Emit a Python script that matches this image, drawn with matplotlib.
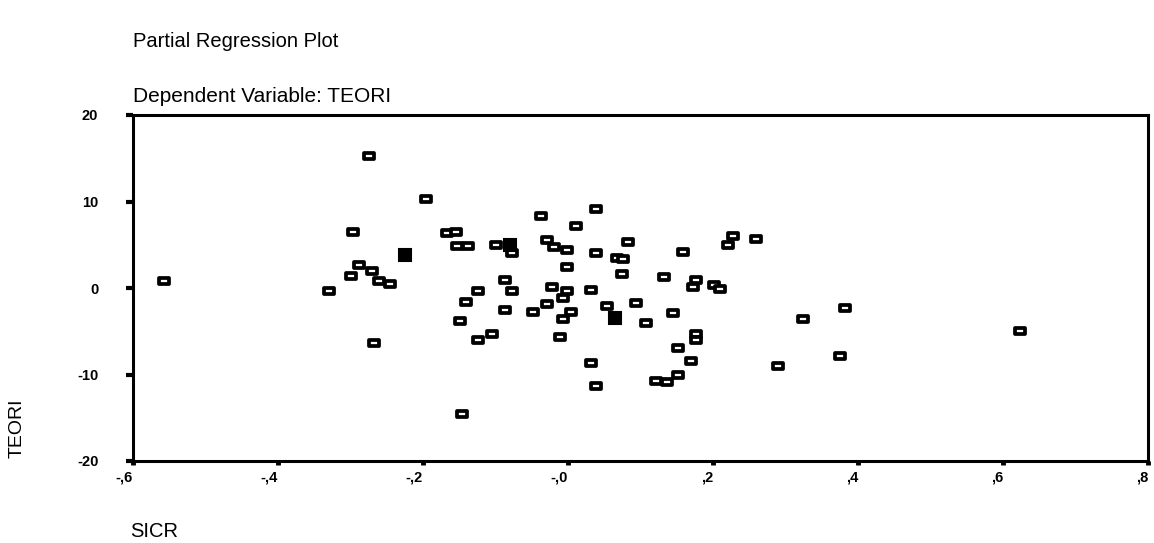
import numpy as np
import matplotlib
matplotlib.use('Agg')
import matplotlib.pyplot as plt
from matplotlib.path import Path

plt.rcParams['font.family'] = ['Liberation Sans', 'DejaVu Sans']

# ── data ──────────────────────────────────────────────────
sicr_open = [-0.557, -0.274, -0.196, -0.297, -0.167, -0.154, -0.153, -0.138, -0.099,
             -0.288, -0.299, -0.270, -0.261, -0.246, -0.330, -0.124, -0.141, -0.149,
             -0.105, -0.124, -0.268, -0.146, -0.077, -0.037, 0.039, 0.011, -0.029,
             -0.019, -0.001, 0.039, 0.083, 0.068, 0.076, 0.159, 0.228, 0.221, 0.259,
             -0.001, 0.074, 0.132, 0.177, 0.172, 0.201, 0.210, -0.087, -0.077, -0.022,
             -0.001, 0.032, -0.007, -0.029, -0.087, -0.048, 0.004, -0.007, 0.054,
             0.094, 0.108, 0.145, -0.011, 0.177, 0.177, 0.152, 0.170, 0.032, 0.039,
             0.121, 0.137, 0.152, 0.290, 0.324, 0.382, 0.375, 0.623]
teori_open = [0.8, 15.3, 10.3, 6.5, 6.4, 6.5, 4.9, 4.8, 5.0,
              2.7, 1.4, 2.0, 0.8, 0.5, -0.4, -0.4, -1.6, -3.8,
              -5.3, -6.0, -6.4, -14.6, 4.0, 8.3, 9.1, 7.2, 5.5,
              4.7, 4.4, 4.1, 5.3, 3.5, 3.4, 4.2, 6.0, 5.0, 5.7,
              2.4, 1.6, 1.3, 0.9, 0.1, 0.4, -0.1, 0.9, -0.4, 0.1,
              -0.4, -0.2, -1.2, -1.9, -2.6, -2.8, -2.8, -3.6, -2.1,
              -1.7, -4.1, -2.9, -5.7, -5.3, -6.0, -6.9, -8.4, -8.7, -11.3,
              -10.7, -10.9, -10.0, -9.0, -3.6, -2.3, -7.9, -5.0]

# filled markers (overlapping cases in the original)
sicr_filled = [-0.225, -0.080, 0.065]
teori_filled = [3.8, 5.0, -3.5]

x_ticks = [-0.6, -0.4, -0.2, 0.0, 0.2, 0.4, 0.6, 0.8]
x_labels = ['-,6', '-,4', '-,2', '-,0', ',2', ',4', ',6', ',8']
y_ticks = [-20, -10, 0, 10, 20]
y_labels = ['-20', '-10', '0', '10', '20']

# wide rectangle marker like the SPSS scan
rect = Path([(-1, -0.55), (1, -0.55), (1, 0.55), (-1, 0.55), (-1, -0.55)],
            [Path.MOVETO, Path.LINETO, Path.LINETO, Path.LINETO, Path.CLOSEPOLY])

W, H = 1154, 543
fig = plt.figure(figsize=(W / 100, H / 100), dpi=100)
fig.patch.set_facecolor('white')

ax = fig.add_axes([133 / W, 1 - 461 / H, (1148 - 133) / W, (461 - 115) / H])
ax.plot(sicr_open, teori_open, ls='none', marker=rect, ms=7.4,
        mfc='white', mec='black', mew=2.7)
ax.plot(sicr_filled, teori_filled, ls='none', marker='s', ms=8,
        mfc='black', mec='black', mew=1.5)

ax.set_xlim(-0.6, 0.8)
ax.set_ylim(-20, 20)
for s in ax.spines.values():
    s.set_linewidth(2.2)
    s.set_color('black')

ax.set_xticks(x_ticks)
ax.set_xticklabels(x_labels, ha='right', fontsize=10.5, fontweight='bold')
ax.set_yticks(y_ticks)
ax.set_yticklabels(y_labels, fontsize=10.5, fontweight='bold')
ax.tick_params(axis='x', length=3, width=3.5, pad=4, direction='out')
ax.tick_params(axis='y', length=5, width=3, pad=20, direction='out')

fig.text(133 / W, 1 - 47 / H, 'Partial Regression Plot', fontsize=14.5,
         ha='left', va='baseline')
fig.text(133 / W, 1 - 102 / H, 'Dependent Variable: TEORI', fontsize=15,
         ha='left', va='baseline')
fig.text(17 / W, 1 - 428 / H, 'TEORI', fontsize=14, rotation=90, ha='center', va='center')
fig.text(130 / W, 1 - 537 / H, 'SICR', fontsize=14.5, ha='left', va='baseline')

plt.savefig('out.png', dpi=100, facecolor='white')
plt.close()
